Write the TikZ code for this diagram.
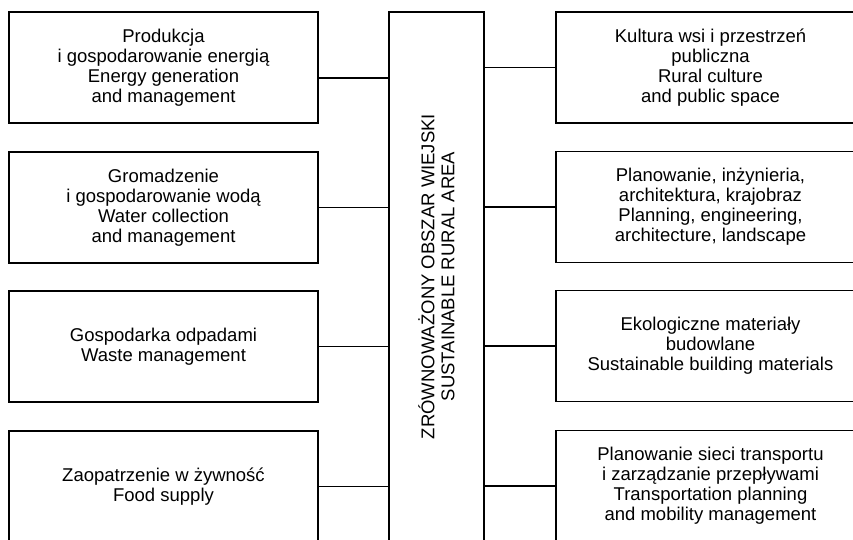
\documentclass[tikz,border=0pt]{standalone}
\usepackage{fontspec}
\setmainfont{Liberation Sans}
\usetikzlibrary{positioning,calc}

\begin{document}
\begin{tikzpicture}[x=1pt, y=-1pt,
  box/.style={draw, line width=1.5pt, align=center, inner sep=3pt, minimum width=309pt, minimum height=111pt, font=\fontsize{18.5}{20}\selectfont},
  hub/.style={box, rotate=90, minimum width=529pt, minimum height=95pt},
  ln/.style={line width=1.5pt}
]
\useasboundingbox (0,0) rectangle (853,539);
\clip (0,0) rectangle (853,539);
% centre
\node[hub] (c) at (436.5,276.5) {ZRÓWNOWAŻONY OBSZAR WIEJSKI\\ SUSTAINABLE RURAL AREA};
% left column
\node[box] (l1) at (163.5,67.5) {Produkcja\\ i gospodarowanie energią\\ Energy generation\\ and management};
\node[box] (l2) at (163.5,207.5) {Gromadzenie\\ i gospodarowanie wodą\\ Water collection\\ and management};
\node[box] (l3) at (163.5,346.5) {Gospodarka odpadami\\ Waste management};
\node[box] (l4) at (163.5,486.5) {Zaopatrzenie w żywność\\ Food supply};
% right column
\node[box] (r1) at (710.5,67.5) {Kultura wsi i przestrzeń\\ publiczna\\ Rural culture\\ and public space};
\node[box] (r2) at (710.5,207) {Planowanie, inżynieria,\\ architektura, krajobraz\\ Planning, engineering,\\ architecture, landscape};
\node[box] (r3) at (710.5,346) {Ekologiczne materiały\\ budowlane\\ Sustainable building materials};
\node[box] (r4) at (710.5,486) {Planowanie sieci transportu\\ i zarządzanie przepływami\\ Transportation planning\\ and mobility management};
% connectors (hub is turned, so its north side faces left)
\draw[ln] ([yshift=-10.5pt]l1.east) -- ([yshift=-10.5pt]l1.east -| c.north);
\foreach \n in {l2,l3,l4} \draw[ln] (\n.east) -- (\n.east -| c.north);
\foreach \n in {r1,r2,r3,r4} \draw[ln] (\n.west) -- (\n.west -| c.south);
\end{tikzpicture}
\end{document}
